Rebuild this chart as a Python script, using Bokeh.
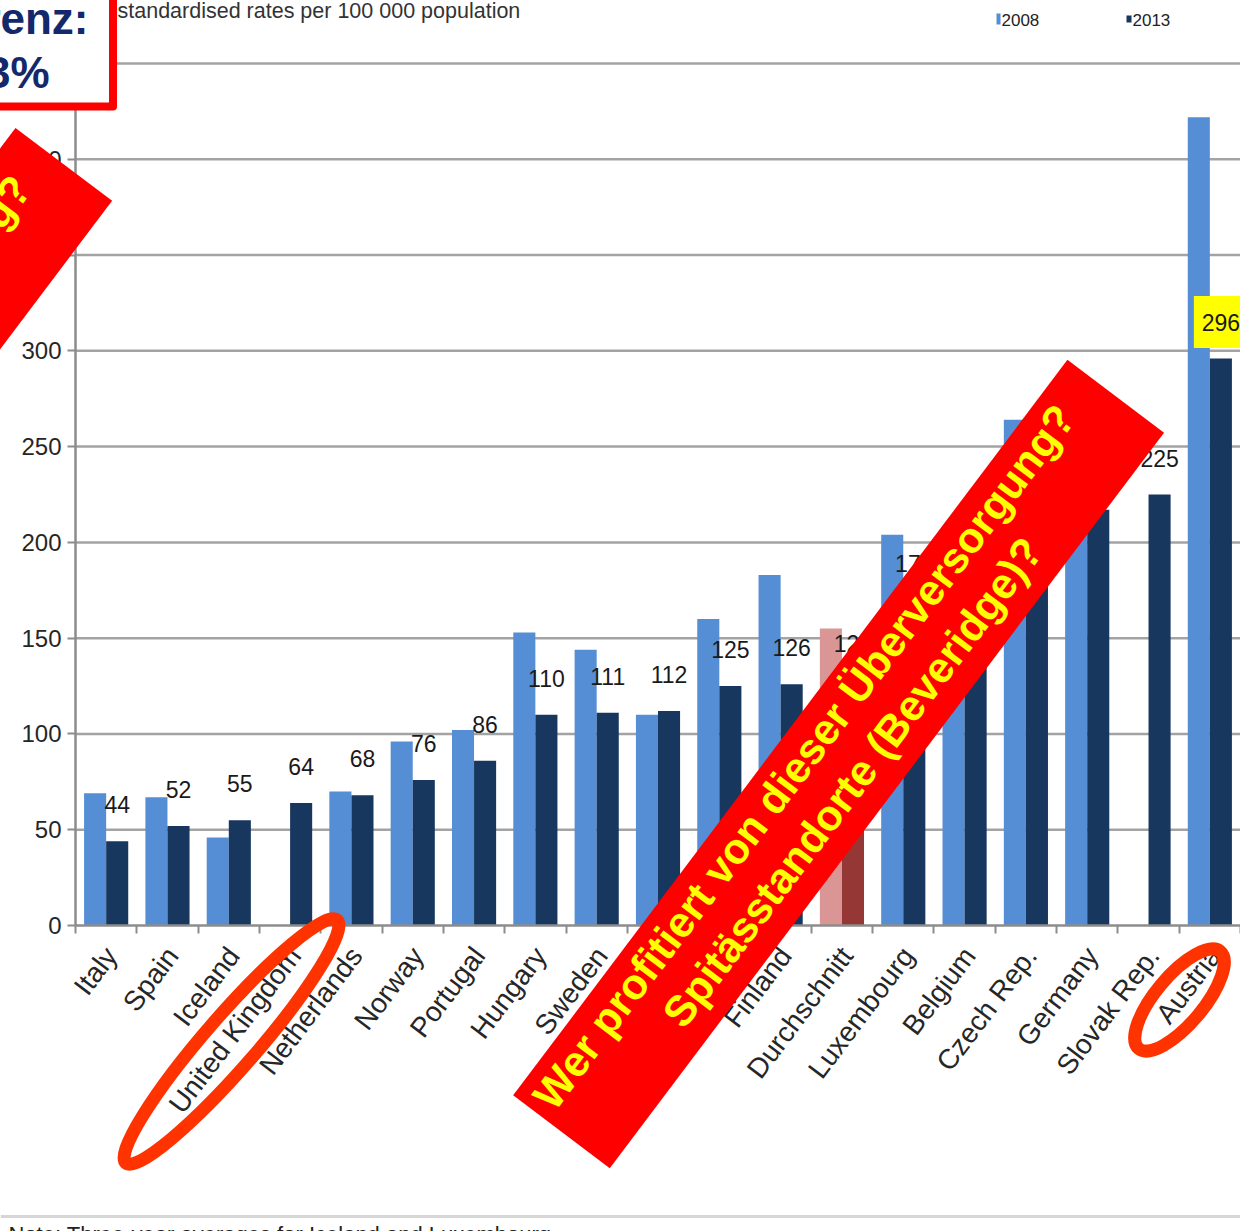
import math
from bokeh.plotting import figure
from bokeh.models import Range1d, LinearAxis, FixedTicker, CustomJSTickFormatter
from bokeh.core.properties import value
from bokeh.embed import file_html
from bokeh.resources import INLINE

# ---------------- data ----------------
categories = ["Italy", "Spain", "Iceland", "United Kingdom", "Netherlands", "Norway",
              "Portugal", "Hungary", "Sweden", "Denmark", "France", "Finland",
              "Durchschnitt", "Luxembourg", "Belgium", "Czech Rep.", "Germany",
              "Slovak Rep.", "Austria"]
rates_2008 = [69, 67, 46, None, 70, 96, 102, 153, 144, 110, 160, 183,
              155, 204, 185, 264, 235, None, 422]
rates_2013 = [44, 52, 55, 64, 68, 76, 86, 110, 111, 112, 125, 126,
              128, 170, 180, 200, 217, 225, 296]
series_names = ["2008", "2013"]
y_ticks = [0, 50, 100, 150, 200, 250, 300, 350, 400, 450]
highlight = "Durchschnitt"
highlight_label = "296"
subtitle = "standardised rates per 100 000 population"
note = "Note: Three-year averages for Iceland and Luxembourg"
box_lines = ["Differenz:", "363%"]
banner_lines = ["Wer profitiert von dieser Überversorgung?", "Spitässtandorte (Beveridge)?"]
banner2_line = "Wer leidet unter dieser Unterversorgung?"

# ---------------- geometry (pixels) ----------------
W, H = 1240, 1231
X0 = 75.0                        # left edge of first category
CW = (W - X0) / len(categories)  # category width in px
Y0 = 925.0                       # pixel row of value 0
PPU = 862.0 / 450.0              # px per unit


def X(px):
    return (px - X0) / CW - 0.5


def Y(py):
    return (Y0 - py) / PPU


C_LIGHT, C_DARK = "#558ED5", "#17375E"
C_HL_LIGHT, C_HL_DARK = "#D99694", "#953735"
SANS = "Liberation Sans, Arial, sans-serif"

p = figure(width=W, height=H, x_range=Range1d(X(0), X(W)), y_range=Range1d(Y(H), Y(0)),
           output_backend="svg", toolbar_location=None, min_border=0,
           x_axis_type=None, y_axis_type=None, outline_line_color=None,
           background_fill_color="white", border_fill_color="white")

n = len(categories)

# gridlines
grid_ticks = [t for t in y_ticks if t > 0]
p.segment(x0=[-0.5] * len(grid_ticks), x1=[X(W) + 1] * len(grid_ticks),
          y0=grid_ticks, y1=grid_ticks, line_color="#a3a3a3", line_width=2.5,
          level="underlay")

# bars
lx, lt, lc = [], [], []
for i, (c, v) in enumerate(zip(categories, rates_2008)):
    if v is not None:
        lx.append(i - 0.18)
        lt.append(v)
        lc.append(C_HL_LIGHT if c == highlight else C_LIGHT)
dx_, dt, dc = [], [], []
for i, (c, v) in enumerate(zip(categories, rates_2013)):
    dx_.append(i + 0.18)
    dt.append(v)
    dc.append(C_HL_DARK if c == highlight else C_DARK)

p.vbar(x=lx, top=lt, bottom=0, width=0.36, fill_color=lc, line_color=None)
p.vbar(x=dx_, top=dt, bottom=0, width=0.36, fill_color=dc, line_color=None)

# value labels for 2013
LBL_OFF = 19
for i, v in enumerate(rates_2013):
    if str(v) == highlight_label:
        p.quad(left=[i + 0.18 - 27 / CW], right=[i + 0.18 + 27 / CW],
               bottom=[v + LBL_OFF - 26 / PPU], top=[v + LBL_OFF + 26 / PPU],
               fill_color="#FFFF00", line_color=None)
p.text(x=dx_, y=[v + LBL_OFF for v in rates_2013], text=[str(v) for v in rates_2013],
       text_align="center", text_baseline="middle", text_font=value(SANS),
       text_font_size="23px", text_color="#1a1a1a")

# axes
yax = LinearAxis(ticker=FixedTicker(ticks=y_ticks), fixed_location=-0.5, bounds=(0, 450))
yax.axis_line_color = "#8c8c8c"
yax.axis_line_width = 2.5
yax.major_tick_line_color = "#8c8c8c"
yax.major_tick_line_width = 2
yax.major_tick_out = 8
yax.major_tick_in = 0
yax.minor_tick_out = 0
yax.minor_tick_in = 0
yax.major_label_text_font = SANS
yax.major_label_text_font_size = "24px"
yax.major_label_text_color = "#262626"
yax.major_label_standoff = 6
p.add_layout(yax, "left")

LABEL_SHIFT = 0.08
xax = LinearAxis(ticker=FixedTicker(ticks=[i + LABEL_SHIFT for i in range(n)],
                                    minor_ticks=[i - 0.5 for i in range(n + 1)]),
                 fixed_location=0, bounds=(-0.5, n - 0.5),
                 formatter=CustomJSTickFormatter(args=dict(names=categories),
                                                 code="const i = Math.round(tick); return (i >= 0 && i < names.length) ? names[i] : '';"))
xax.axis_line_color = "#8c8c8c"
xax.axis_line_width = 2.5
xax.major_tick_out = 0
xax.major_tick_in = 0
xax.major_tick_line_color = None
xax.minor_tick_line_color = "#8c8c8c"
xax.minor_tick_line_width = 2
xax.minor_tick_out = 8
xax.minor_tick_in = 0
xax.major_label_orientation = math.radians(53)
xax.major_label_text_font = SANS
xax.major_label_text_font_size = "28px"
xax.major_label_text_color = "#262626"
xax.major_label_standoff = 17
p.add_layout(xax, "below")

# subtitle & legend
p.text(x=[X(117)], y=[Y(10)], text=[subtitle], text_font=value(SANS),
       text_font_size="21.5px", text_color="#333333", text_baseline="middle")
p.quad(left=[X(996)], right=[X(1000)], top=[Y(13)], bottom=[Y(24)], fill_color=C_LIGHT, line_color=None)
p.quad(left=[X(1126)], right=[X(1131)], top=[Y(15)], bottom=[Y(22)], fill_color=C_DARK, line_color=None)
p.text(x=[X(1001), X(1132)], y=[Y(19), Y(19)], text=series_names, text_font=value(SANS),
       text_font_size="17px", text_color="#222222", text_baseline="middle")

# bottom rule and note
p.segment(x0=[X(0)], x1=[X(W)], y0=[Y(1216)], y1=[Y(1216)], line_color="#d6d6d6", line_width=3)
p.text(x=[X(8)], y=[Y(1234)], text=[note], text_font=value(SANS), text_font_size="22px",
       text_color="#222222", text_baseline="middle")

# ---------------- overlays ----------------
ang = math.radians(53.0)
ux, uy = math.cos(ang), -math.sin(ang)     # along banner (screen px, y down)
vx, vy = math.sin(ang), math.cos(ang)      # across banner
HALF_W = 60.5


def banner_poly(cx, cy, half_len_neg, half_len_pos):
    pts = [(cx + ux * -half_len_neg - vx * HALF_W, cy + uy * -half_len_neg - vy * HALF_W),
           (cx + ux * -half_len_neg + vx * HALF_W, cy + uy * -half_len_neg + vy * HALF_W),
           (cx + ux * half_len_pos + vx * HALF_W, cy + uy * half_len_pos + vy * HALF_W),
           (cx + ux * half_len_pos - vx * HALF_W, cy + uy * half_len_pos - vy * HALF_W)]
    return [X(a) for a, b in pts], [Y(b) for a, b in pts]


# main banner
MX, MY = 838.1, 763.5
bx, by = banner_poly(MX, MY, 460.5, 460.5)
p.patch(bx, by, fill_color="#FF0000", line_color=None, level="overlay")
for k, (du, dv) in enumerate([(-15, -32), (-6, 22)]):
    px_ = MX + ux * du + vx * dv
    py_ = MY + uy * du + vy * dv
    p.text(x=[X(px_)], y=[Y(py_)], text=[banner_lines[k]], angle=ang,
           text_align="center", text_baseline="middle", text_font=value(SANS),
           text_font_style="bold", text_font_size="43px", text_color="#FFFF00",
           level="overlay")

# top-left banner
EX, EY = 63.3, 163.8
bx2, by2 = banner_poly(EX, EY, 900, 0)
p.patch(bx2, by2, fill_color="#FF0000", line_color=None, level="overlay")
px2 = EX + ux * -38.5 + vx * -24
py2 = EY + uy * -38.5 + vy * -24
p.text(x=[X(px2)], y=[Y(py2)], text=[banner2_line], angle=ang, text_align="right",
       text_baseline="middle", text_font=value(SANS), text_font_style="bold",
       text_font_size="43px", text_color="#FFFF00", level="overlay")

# ellipses
p.ellipse(x=[X(231), X(1179)], y=[Y(1041), Y(999.5)], width=[322, 127], height=[52, 48],
          angle=[math.radians(49), math.radians(50)], width_units="screen",
          height_units="screen", fill_color=None, line_color="#FF3300", line_width=13,
          level="overlay")

# top-left box
p.quad(left=[X(-20)], right=[X(112.5)], top=[Y(-20)], bottom=[Y(106)], fill_color="white",
       line_color="#FF0000", line_width=8, line_join="round", level="overlay")
p.text(x=[X(88), X(49)], y=[Y(18), Y(72)], text=box_lines, text_align="right",
       text_baseline="middle", text_font=value(SANS), text_font_style="bold",
       text_font_size="44px", text_color="#13296B", level="overlay")

open("out.html", "w").write(file_html(p, INLINE))
